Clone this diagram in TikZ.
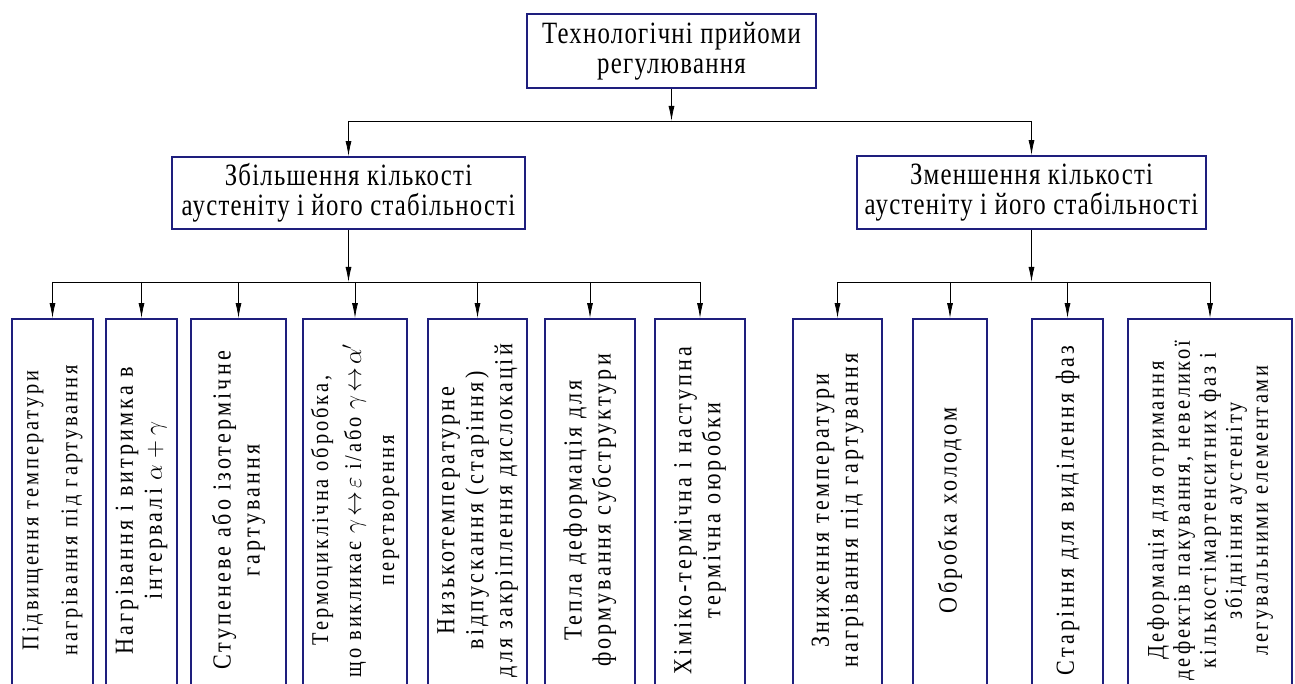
\documentclass[tikz,border=0pt]{standalone}
\usepackage{fontspec}
\setmainfont{Liberation Serif}
\newfontfamily\hfont{Liberation Serif}[FakeStretch=0.8, LetterSpace=4]
\newfontfamily\vfont{Liberation Serif}[FakeStretch=0.85, LetterSpace=12]
\usetikzlibrary{arrows.meta}
\definecolor{boxblue}{RGB}{30,30,125}
\tikzset{
  box/.style={draw=boxblue, line width=1.8pt, fill=white, align=center, inner sep=0pt},
  hbox/.style={box, font=\hfont\fontsize{31}{30}\selectfont},
  vbox/.style={box, rotate=90, minimum width=383pt, font=\vfont\fontsize{26}{29}\selectfont},
  arr/.style={-{Latex[length=15pt,width=6pt]}, line width=0.8pt},
  bus/.style={line width=0.8pt}
}

\begin{document}
\begin{tikzpicture}[x=1pt,y=-1pt]
    \useasboundingbox (0,0) rectangle (1295,684);
    % Top and middle boxes.
        \node[hbox, minimum width=289pt, minimum height=74pt] (tech) at (671.5,51) {Технологічні прийоми\\регулювання};
        \node[hbox, minimum width=353pt, minimum height=72pt] (inc) at (348.5,193) {Збільшення кількості\\аустеніту і його стабільності};
        \node[hbox, minimum width=349pt, minimum height=73pt] (dec) at (1031.5,192.5) {Зменшення кількості\\аустеніту і його стабільності};
    % Bottom boxes, left group.
        \node[vbox, minimum height=81pt, font=\vfont\fontsize{24}{29}\selectfont] (b1) at (52.5,510.5) {Підвищення температури\\[10pt]нагрівання під гартування};
        \node[vbox, minimum height=71pt] (b2) at (141.5,510.5) {Нагрівання і витримка в\\інтервалі \(\alpha+\gamma\)};
        \node[vbox, minimum height=95pt] (b3) at (238.5,510.5) {Ступеневе або ізотермічне\\гартування};
        \node[vbox, minimum height=104pt, font=\vfont\fontsize{24}{29}\selectfont] (b4) at (355,510.5) {Термоциклічна обробка,\\[4pt]що викликає \(\gamma\!\leftrightarrow\!\varepsilon\) і/або \(\gamma\!\leftrightarrow\!\alpha'\)\\[4pt]перетворення};
        \node[vbox, minimum height=99pt] (b5) at (477.5,510.5) {Низькотемпературне\\відпускання (старіння)\\для закріплення дислокацій};
        \node[vbox, minimum height=90pt] (b6) at (590,510.5) {Тепла деформація для\\формування субструктури};
        \node[vbox, minimum height=90pt] (b7) at (700,510.5) {Хіміко-термічна і наступна\\термічна оюробки};
    % Bottom boxes, right group.
        \node[vbox, minimum height=89pt] (b8) at (837.5,510.5) {Зниження температури\\нагрівання під гартування};
        \node[vbox, minimum height=74pt] (b9) at (950,510.5) {Обробка холодом};
        \node[vbox, minimum height=71pt] (b10) at (1067.5,510.5) {Старіння для виділення фаз};
        \node[vbox, minimum height=164pt, font=\vfont\fontsize{24}{26}\selectfont] (b11) at (1210,510.5) {Деформація для отримання\\дефектів пакування, невеликої\\кількостімартенситних фаз і\\збідніння аустеніту\\легувальними елементами};
    % Junctions on the buses.
        \coordinate (top bus) at (671.5,121);
        \coordinate (low bus) at (0,282);
    % Connectors.
        \draw[arr] (tech.south) -- (top bus);
        \draw[bus] (inc.north |- top bus) -- (dec.north |- top bus);
        \draw[arr] (inc.north |- top bus) -- (inc.north);
        \draw[arr] (dec.north |- top bus) -- (dec.north);
        \draw[arr] (inc.south) -- (inc.south |- low bus);
        \draw[arr] (dec.south) -- (dec.south |- low bus);
        \draw[bus] (b1.east |- low bus) -- (b7.east |- low bus);
        \draw[bus] (b8.east |- low bus) -- (b11.east |- low bus);
        \foreach \b in {b1,b2,b3,b4,b5,b6,b7,b8,b9,b10,b11}
            \draw[arr] (\b.east |- low bus) -- (\b.east);
\end{tikzpicture}
\end{document}
